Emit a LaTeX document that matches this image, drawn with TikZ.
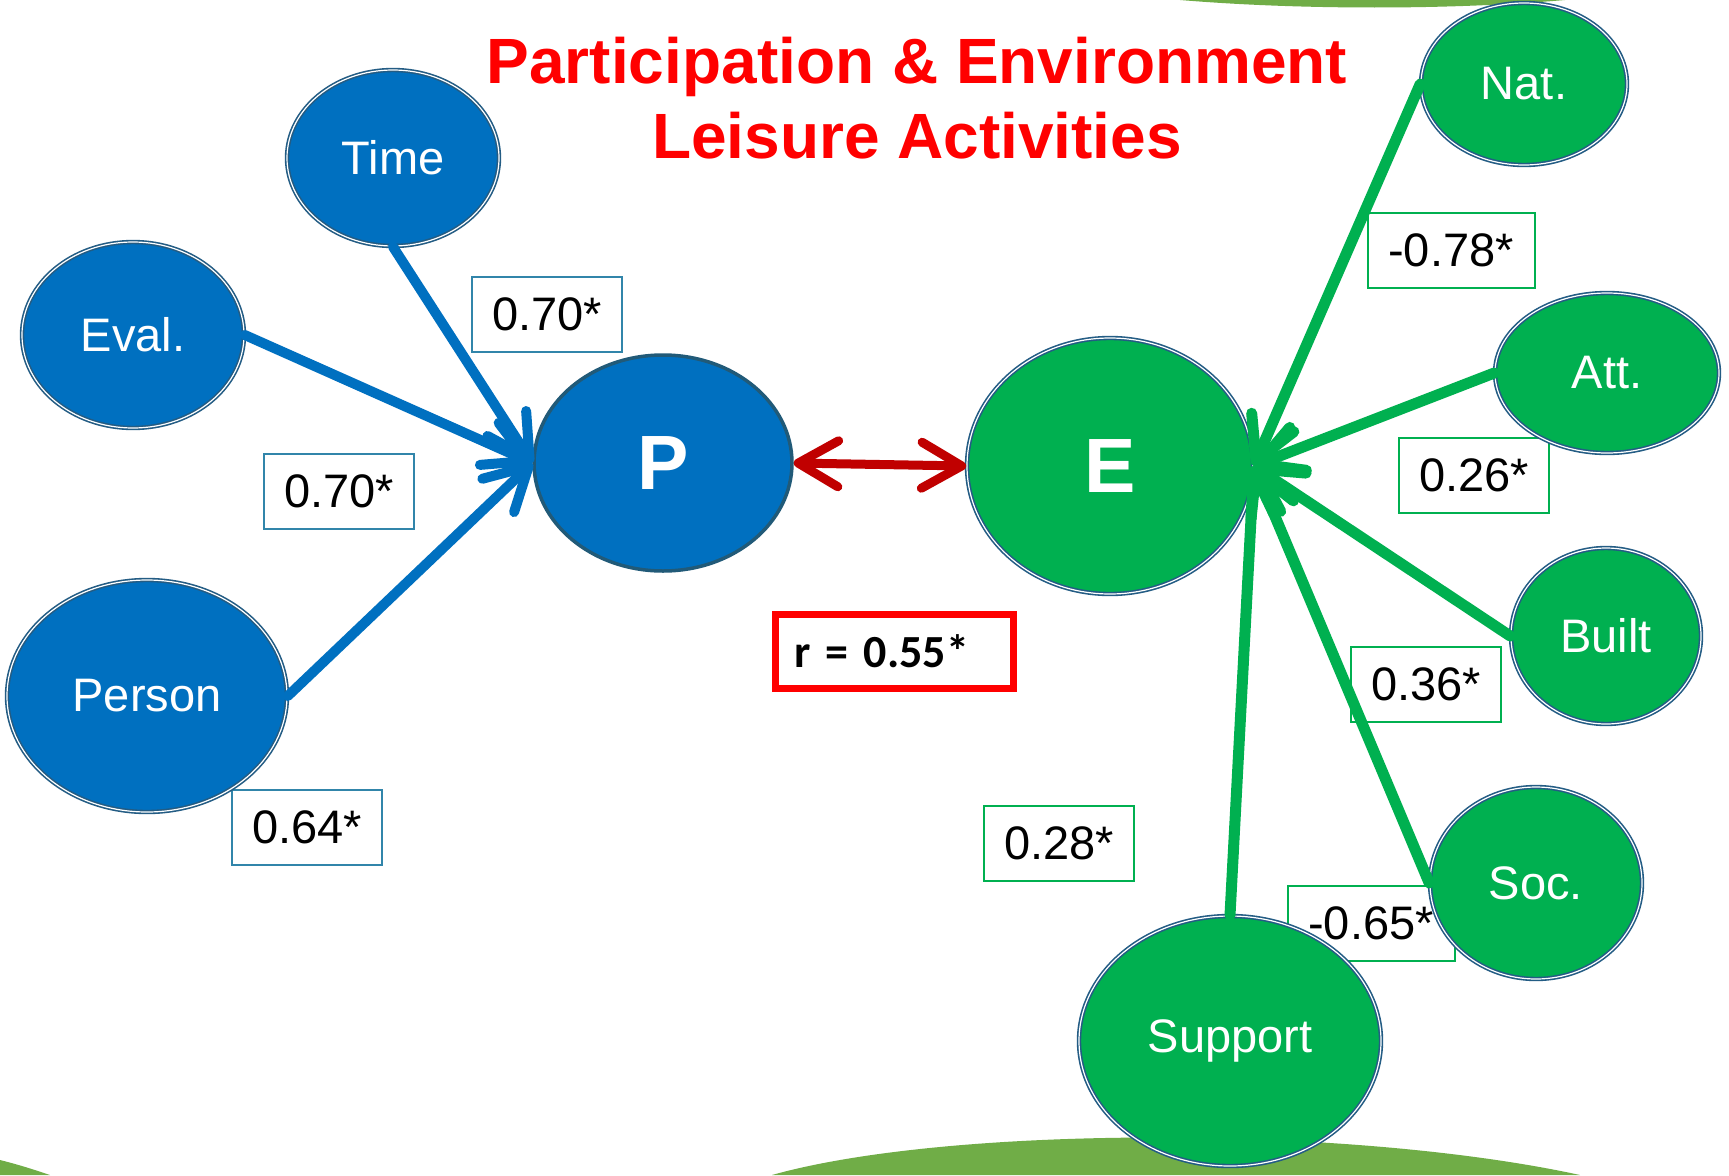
\documentclass[tikz,border=0pt]{standalone}
\usepackage{fontspec}
\setmainfont{Liberation Sans}
\newfontfamily\calib{Carlito}
\usetikzlibrary{shapes.geometric,arrows.meta}
\definecolor{pblue}{RGB}{0,112,192}
\definecolor{egreen}{RGB}{0,176,80}
\definecolor{edgeblue}{RGB}{35,92,132}
\definecolor{pedge}{RGB}{33,90,120}
\definecolor{labblue}{RGB}{49,133,170}
\definecolor{arrowred}{RGB}{192,0,0}
\definecolor{titlered}{RGB}{255,0,0}
\definecolor{band}{RGB}{112,173,71}
\tikzset{
  bub/.style={ellipse, draw=edgeblue, double=white, double distance=1.2pt, line width=1.6pt, inner sep=0pt, text=white, font=\fontsize{47}{50}\selectfont},
  bluebub/.style={bub, fill=pblue},
  greenbub/.style={bub, fill=egreen},
  labbox/.style={draw, line width=2pt, minimum width=150pt, minimum height=75pt, inner sep=0pt, font=\fontsize{47}{50}\selectfont},
  bluelab/.style={labbox, draw=labblue},
  greenlab/.style={labbox, draw=egreen},
  widelab/.style={greenlab, minimum width=167pt},
  barb/.style={-{Straight Barb[length=42pt,width=46pt,round]}},
  bluearrow/.style={barb, draw=pblue, line width=10pt, line cap=round},
  greenarrow/.style={barb, draw=egreen, line width=11pt, line cap=round},
  redarrow/.style={{Straight Barb[length=40pt,width=46pt,round]}-{Straight Barb[length=40pt,width=46pt,round]}, draw=arrowred, line width=9pt},
  titletext/.style={text=titlered, font=\fontsize{64}{75}\selectfont\bfseries, align=center}
}
\begin{document}
\begin{tikzpicture}[x=1pt,y=-1pt]
\useasboundingbox (0,0) rectangle (1729,1175);
\fill[white] (0,0) rectangle (1729,1175);
% background bands
\fill[band] (1180,0) .. controls (1300,10) and (1450,10) .. (1565,0) -- cycle;
\fill[band] (772,1175) .. controls (950,1125) and (1350,1125) .. (1580,1175) -- cycle;
\fill[band] (0,1160) .. controls (20,1165) and (35,1170) .. (50,1175) -- (0,1175) -- cycle;
% title
\node[titletext] (title) at (917,98) {Participation \& Environment\\Leisure Activities};
% labels
\node[bluelab] (l1) at (547,314) {0.70*};
\node[bluelab] (l2) at (339,491) {0.70*};
\node[bluelab] (l3) at (307,827) {0.64*};
\node[widelab] (l4) at (1451,250) {-0.78*};
\node[greenlab] (l5) at (1474,475) {0.26*};
\node[greenlab] (l6) at (1426,684) {0.36*};
\node[greenlab] (l7) at (1059,843) {0.28*};
\node[widelab] (l8) at (1371,923) {-0.65*};
\node[draw=titlered, line width=7pt, text width=200pt, align=left, inner xsep=19pt, inner ysep=0pt, minimum height=74pt, font=\calib\bfseries\fontsize{46}{50}\selectfont] (r) at (894,651) {r = 0.55*};
% ellipses
\node[bluebub, minimum width=212pt, minimum height=176pt] (time) at (393,158) {Time};
\node[bluebub, minimum width=222pt, minimum height=186pt] (eval) at (133,335) {Eval.};
\node[bluebub, minimum width=280pt, minimum height=232pt] (person) at (147,696) {Person};
\node[ellipse, fill=pblue, draw=pedge, line width=3.5pt, inner sep=0pt, minimum width=258pt, minimum height=216pt, text=white, font=\fontsize{77}{80}\selectfont\bfseries] (P) at (663,463) {P};
\node[greenbub, minimum width=286pt, minimum height=256pt, font=\fontsize{77}{80}\selectfont\bfseries] (E) at (1110,466) {E};
\node[greenbub, minimum width=206pt, minimum height=162pt] (nat) at (1524,84) {Nat.};
\node[greenbub, minimum width=224pt, minimum height=160pt] (att) at (1607,373) {Att.};
\node[greenbub, minimum width=190pt, minimum height=176pt] (built) at (1606,636) {Built};
\node[greenbub, minimum width=212pt, minimum height=192pt] (soc) at (1536,883) {Soc.};
\node[greenbub, minimum width=302pt, minimum height=250pt] (support) at (1230,1041) {Support};
% connectors
\draw[bluearrow] (time.south) -- (P.west);
\draw[bluearrow] (eval.east) -- (P.west);
\draw[bluearrow] (person.east) -- (P.west);
\draw[greenarrow] (nat.west) -- (E.east);
\draw[greenarrow] (att.west) -- (E.east);
\draw[greenarrow] (built.west) -- (E.east);
\draw[greenarrow] (soc.west) -- (E.east);
\draw[greenarrow] (support.north) -- (E.east);
\draw[redarrow] (P.east) -- (E.west);
\end{tikzpicture}
\end{document}
